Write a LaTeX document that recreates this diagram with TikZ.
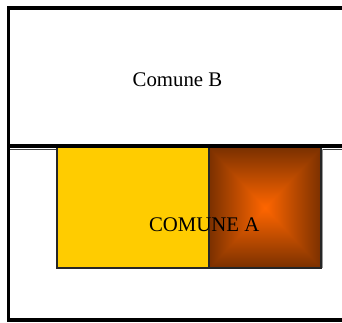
\documentclass[tikz,border=0pt]{standalone}
\usepackage{fontspec}
\setmainfont{Liberation Serif}
\pgfdeclarefunctionalshading{boxshade}{\pgfpoint{-50bp}{-50bp}}{\pgfpoint{50bp}{50bp}}{}{
abs exch abs 2 copy lt {exch} if pop 25 div dup 1 gt {pop 1} if
dup 0.52 mul 1 exch sub
exch 0.21 mul 0.4 exch sub
0
}
\tikzset{
  frame/.style={draw=black, line width=3.2pt},
  lowframe/.style={draw=black!75, line width=1pt},
  yellowbox/.style={fill=yellowA, draw=black!85, line width=1.3pt},
  orangebox/.style={shading=boxshade, draw=black!85, line width=1.3pt},
  lbl/.style={font=\fontsize{20.8}{24}\selectfont, anchor=base, inner sep=0pt}
}
\definecolor{yellowA}{HTML}{FFCC00}
\begin{document}
\begin{tikzpicture}[x=1pt,y=-1pt]
\useasboundingbox (0,0) rectangle (342,322);
% lower box (Comune A territory)
\draw[lowframe] (8.5,149) -- (345,149);
\draw[frame] (8.5,146) -- (8.5,320) -- (345,320);
% yellow and orange parts
\path[yellowbox] (57,147.5) rectangle (209,268);
\shade[orangebox] (209,147.5) rectangle (321,268);
\draw[draw=black!85, line width=1.3pt] (209,147.5) rectangle (321,268);
\draw[black!40, line width=0.8pt] (322.3,149) -- (322.3,268);
% upper box (Comune B)
\draw[frame] (345,8) -- (8.5,8) -- (8.5,146) -- (345,146);
\node[lbl] (b) at (177.5,86) {Comune B};
\node[lbl] (a) at (204.2,231) {COMUNE A};
\end{tikzpicture}
\end{document}
